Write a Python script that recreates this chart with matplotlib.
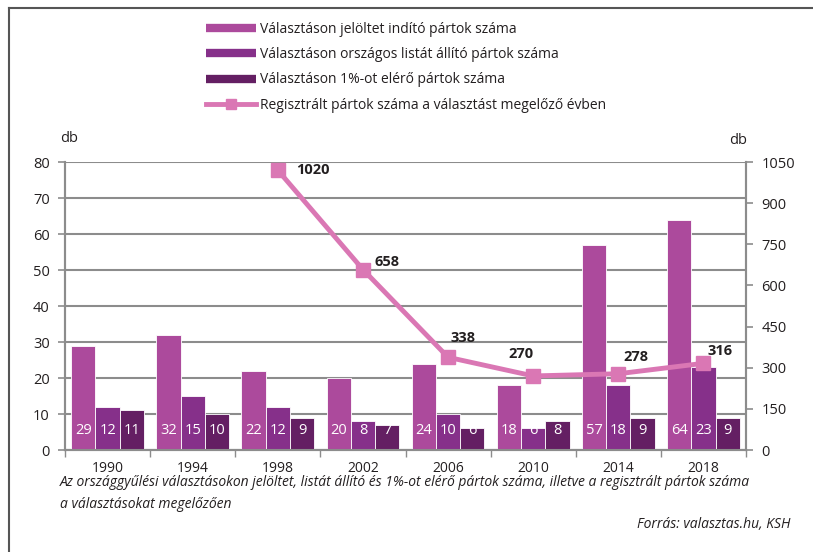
import matplotlib
matplotlib.use("Agg")
import matplotlib.pyplot as plt
from matplotlib.lines import Line2D
import numpy as np

plt.rcParams['font.family'] = ['Open Sans', 'DejaVu Sans']

years = ["1990", "1994", "1998", "2002", "2006", "2010", "2014", "2018"]
jelolt = [29, 32, 22, 20, 24, 18, 57, 64]
orszagos = [12, 15, 12, 8, 10, 6, 18, 23]
egyszazalek = [11, 10, 9, 7, 6, 8, 9, 9]
regisztralt = [np.nan, np.nan, 1020, 658, 338, 270, 278, 316]

series_names = [
    "Választáson jelöltet indító pártok száma",
    "Választáson országos listát állító pártok száma",
    "Választáson 1%-ot elérő pártok száma",
    "Regisztrált pártok száma a választást megelőző évben",
]
colors = ["#AC4A9C", "#86308A", "#641F63"]
line_color = "#DA77B4"
grid_color = "#8C8C8C"
text_color = "#231F20"

fig = plt.figure(figsize=(8.13, 5.52), dpi=100)
ax = fig.add_axes([65/813, 1-450/552, (746-65)/813, (450-162)/552])
ax2 = ax.twinx()

x = np.arange(len(years))
bw = 0.285
for i, (vals, c) in enumerate(zip([jelolt, orszagos, egyszazalek], colors)):
    xs = x + (i-1)*bw
    ax.bar(xs, vals, width=bw, color=c, edgecolor="white", linewidth=0.6, zorder=3)
    for xi, v in zip(xs, vals):
        ax.text(xi, 5.3, str(v), color="white", ha="center", va="center", fontsize=10.5, zorder=4)

ax.set_xlim(-0.5, len(years)-0.5)
ax.set_ylim(0, 80)
ax.set_yticks(range(0, 81, 10))
ax.yaxis.grid(True, color=grid_color, linewidth=1.5, zorder=0)
ax.set_axisbelow(True)
ax.set_xticks(x)
ax.set_xticklabels(years, fontsize=10, color=text_color)
ax.set_xticks(np.arange(-0.5, len(years)), minor=True)
ax.tick_params(axis='x', which='major', length=0, pad=8)
ax.tick_params(axis='x', which='minor', length=5, color=grid_color, width=1)
ax.tick_params(axis='y', length=5, color=grid_color, width=1.2, labelsize=10.5, labelcolor=text_color, pad=6)

for sp in ["top"]:
    ax.spines[sp].set_visible(False)
    ax2.spines[sp].set_visible(False)
for a in (ax, ax2):
    for sp in ["left", "right", "bottom"]:
        a.spines[sp].set_color(grid_color)
        a.spines[sp].set_linewidth(1.5)

ax2.plot(x, regisztralt, color=line_color, linewidth=3.5, marker="s", markersize=10, zorder=5)
ax2.set_ylim(0, 1050)
ax2.set_yticks(range(0, 1051, 150))
ax2.tick_params(axis='y', length=5, color=grid_color, width=1.2, labelsize=10.5, labelcolor=text_color, pad=6)

offsets = [None, None, (18, 0, 'left'), (12, 8, 'left'), (2, 19, 'left'), (-12, 22, 'center'), (18, 17, 'center'), (17, 12, 'center')]
for xi, v, off in zip(x, regisztralt, offsets):
    if off is None or np.isnan(v):
        continue
    ax2.annotate(str(int(v)), (xi, v), xytext=(off[0], off[1]), textcoords='offset pixels',
                 ha=off[2], va='center', fontsize=10.5, fontweight='bold', color=text_color, zorder=6)

fig.text(69/813, 1-139/552, "db", fontsize=10.5, color=text_color, ha="center", va="center")
fig.text(738/813, 1-140/552, "db", fontsize=10.5, color=text_color, ha="center", va="center")

handles = [Line2D([], [], color=c, linewidth=6, solid_capstyle='butt') for c in colors]
handles.append(Line2D([], [], color=line_color, linewidth=3.5, marker='s', markersize=7))
fig.legend(handles, series_names, loc="upper left", bbox_to_anchor=(200/813, 1-16/552),
           frameon=False, fontsize=10, handlelength=3.6, handletextpad=0.3,
           labelspacing=0.75, labelcolor=text_color, borderaxespad=0)

cap_font = ['Liberation Sans Narrow', 'Open Sans', 'DejaVu Sans']
fig.text(60/813, 1-483/552, "Az országgyűlési választásokon jelöltet, listát állító és 1%-ot elérő pártok száma, illetve a regisztrált pártok száma",
         fontsize=10, style='italic', family=cap_font, color=text_color, va='center')
fig.text(60/813, 1-504/552, "a választásokat megelőzően",
         fontsize=10, style='italic', family=cap_font, color=text_color, va='center')
fig.text(790/813, 1-524/552, "Forrás: valasztas.hu, KSH",
         fontsize=10, style='italic', family=cap_font, color=text_color, va='center', ha='right')

# frame lines (top and left)
fig.add_artist(Line2D([9/813, 1], [1-8/552, 1-8/552], color="#555555", linewidth=1.5, transform=fig.transFigure))
fig.add_artist(Line2D([9/813, 9/813], [0, 1-8/552], color="#555555", linewidth=1.5, transform=fig.transFigure))

fig.savefig("out.png", dpi=100)
